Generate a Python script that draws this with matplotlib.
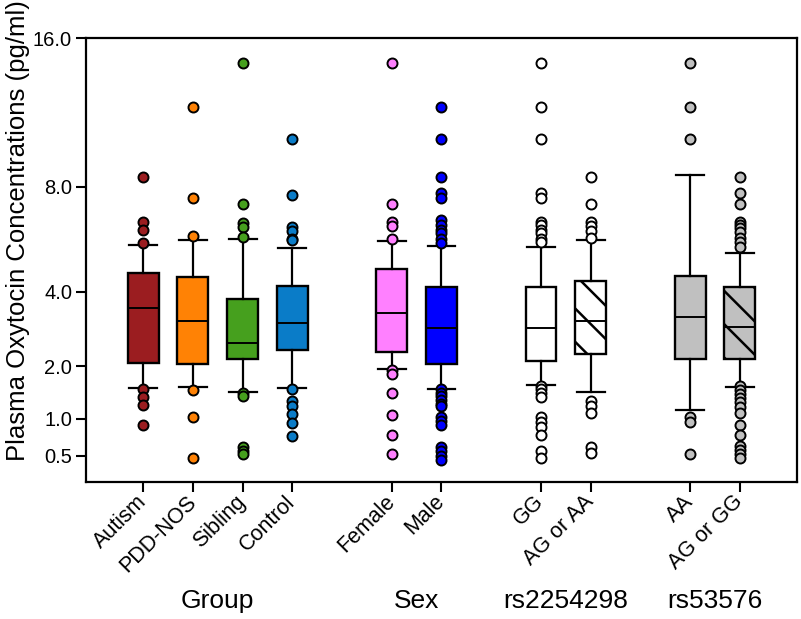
import numpy as np
import matplotlib
matplotlib.use("Agg")
import matplotlib.pyplot as plt
from matplotlib.transforms import blended_transform_factory

plt.rcParams["font.family"] = ["Liberation Sans", "DejaVu Sans"]
plt.rcParams["hatch.linewidth"] = 1.8

# Box positions and labels
positions = [1, 2, 3, 4, 6, 7, 9, 10, 12, 13]
tick_labels = ["Autism", "PDD-NOS", "Sibling", "Control", "Female", "Male",
               "GG", "AG or AA", "AA", "AG or GG"]
group_names = ["Group", "Sex", "rs2254298", "rs53576"]
group_centers = [2.5, 6.5, 9.5, 12.5]

# Box summary values (pg/ml)
q1 = [2.07, 2.04, 2.16, 2.37, 2.32, 2.04, 2.11, 2.28, 2.17, 2.16]
med = [3.51, 3.13, 2.54, 3.07, 3.36, 2.93, 2.93, 3.13, 3.25, 2.97]
q3 = [4.60, 4.47, 3.77, 4.18, 4.74, 4.16, 4.16, 4.35, 4.52, 4.16]
whislo = [1.545, 1.56, 1.47, 1.545, 1.93, 1.53, 1.59, 1.46, 1.14, 1.55]
whishi = [5.61, 5.80, 5.85, 5.51, 5.76, 5.57, 5.52, 5.78, 8.52, 5.30]

fliers = [
    [8.45, 6.50, 6.17, 5.67, 1.53, 1.37, 1.22, 0.90],
    [11.93, 7.49, 5.96, 1.50, 1.03, 0.47],
    [14.45, 7.25, 6.47, 6.31, 5.90, 1.44, 1.39, 0.605, 0.557, 0.52],
    [10.25, 7.63, 6.31, 6.14, 5.82, 5.78, 1.53, 1.30, 1.21, 1.07, 0.935, 0.747],
    [14.45, 7.25, 6.50, 6.33, 5.84, 1.91, 1.82, 1.45, 1.06, 0.757, 0.52],
    [11.93, 10.25, 8.45, 7.71, 7.49, 6.58, 6.40, 6.20, 6.05, 5.85, 5.68,
     1.53, 1.45, 1.38, 1.32, 1.25, 1.20, 1.03, 0.966, 0.90,
     0.605, 0.55, 0.496, 0.45],
    [14.45, 11.93, 10.25, 7.71, 7.49, 6.52, 6.37, 6.20, 6.05, 5.85, 5.72,
     1.58, 1.52, 1.45, 1.37, 1.03, 0.95, 0.875, 0.757, 0.55, 0.47],
    [8.45, 7.25, 6.52, 6.33, 6.15, 5.87, 1.30, 1.21, 1.09, 0.605, 0.53],
    [14.45, 11.93, 10.25, 1.03, 0.95, 0.52],
    [8.45, 7.70, 7.25, 6.52, 6.40, 6.25, 6.10, 5.87, 5.72, 5.52,
     1.58, 1.50, 1.43, 1.35, 1.27, 1.19, 1.09, 0.90, 0.757, 0.62,
     0.57, 0.52, 0.47],
]

colors = ["#9b1d20", "#ff8205", "#46a01e", "#0a7cc8", "#ff80ff", "#0000ff",
          "#ffffff", "#ffffff", "#c0c0c0", "#c0c0c0"]
hatches = [None, None, None, None, None, None, None, "\\", None, "\\"]

stats = []
for i in range(len(positions)):
    stats.append(dict(q1=q1[i], med=med[i], q3=q3[i], whislo=whislo[i],
                      whishi=whishi[i], fliers=[]))

fig = plt.figure(figsize=(8.01, 6.19), dpi=100)
ax = fig.add_axes([86 / 801, 1 - 482 / 619, 711 / 801, 444 / 619])

ax.set_yscale("function", functions=(np.sqrt, np.square))

bp = ax.bxp(
    stats,
    positions=positions,
    widths=0.62,
    patch_artist=True,
    showfliers=False,
    boxprops=dict(linewidth=1.7, edgecolor="black"),
    medianprops=dict(color="black", linewidth=1.4),
    whiskerprops=dict(color="black", linewidth=1.6),
    capprops=dict(color="black", linewidth=1.6),
    capwidths=0.56,
)

for i, box in enumerate(bp["boxes"]):
    box.set_facecolor(colors[i])
    if hatches[i]:
        box.set_hatch(hatches[i])

# Outlier points
for i, pos in enumerate(positions):
    ax.plot(
        [pos] * len(fliers[i]),
        fliers[i],
        linestyle="none",
        marker="o",
        markersize=7.2,
        markerfacecolor=colors[i],
        markeredgecolor="black",
        markeredgewidth=1.4,
        zorder=4,
    )

ax.set_xlim(-0.15, 14.15)
ax.set_ylim(0.25, 16)

ax.set_yticks([0.5, 1.0, 2.0, 4.0, 8.0, 16.0])
ax.set_yticklabels(["0.5", "1.0", "2.0", "4.0", "8.0", "16.0"], fontsize=14.5)
ax.yaxis.set_minor_locator(matplotlib.ticker.NullLocator())

ax.set_xticks(positions)
ax.set_xticklabels(tick_labels, fontsize=15.5, rotation=45,
                   ha="right", va="center", rotation_mode="anchor")

ax.tick_params(axis="both", direction="out", length=7, width=1.5, color="black")
ax.tick_params(axis="x", pad=5)
ax.tick_params(axis="y", pad=3)

for spine in ax.spines.values():
    spine.set_linewidth(1.6)
    spine.set_color("black")

fig.text(18 / 801, 1 - 231 / 619, "Plasma Oxytocin Concentrations (pg/ml)",
         rotation=90, ha="center", va="center", fontsize=18.5)

trans = blended_transform_factory(ax.transData, fig.transFigure)
for name, xc in zip(group_names, group_centers):
    ax.text(xc, 1 - 608 / 619, name, transform=trans, ha="center",
            va="baseline", fontsize=19)

fig.savefig("out.png", dpi=100)
